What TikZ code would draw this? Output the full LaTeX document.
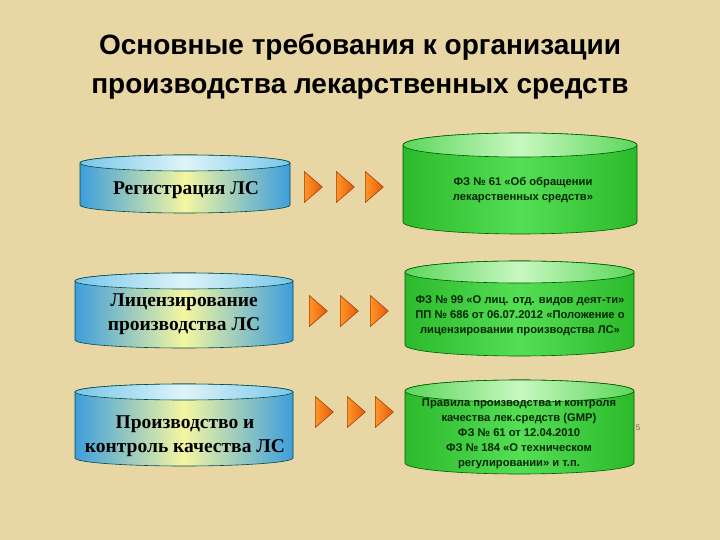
\documentclass[tikz,border=0pt]{standalone}
\usepackage{fontspec}
\setmainfont{Liberation Sans}
\newfontfamily\serifbf{Liberation Serif}
\usetikzlibrary{shapes.geometric}
\definecolor{paper}{RGB}{232,214,164}
\definecolor{drumblue}{RGB}{62,158,220}
\definecolor{drumyellow}{RGB}{244,246,160}
\definecolor{lidblue}{RGB}{120,198,234}
\definecolor{lidlight}{RGB}{222,244,248}
\definecolor{drumgreen}{RGB}{44,186,44}
\definecolor{drumlime}{RGB}{84,222,84}
\definecolor{lidgreen}{RGB}{92,214,92}
\definecolor{lidmint}{RGB}{200,248,192}
\definecolor{arrowlight}{RGB}{255,150,40}
\definecolor{arrowdark}{RGB}{232,90,10}
\tikzset{
    bluebody/.style={draw=teal!60!black, line width=0.6pt, left color=drumblue, right color=drumblue, middle color=drumyellow},
    bluelid/.style={draw=teal!60!black, line width=0.6pt, left color=lidblue, right color=lidblue, middle color=lidlight},
    greenbody/.style={draw=green!35!black, line width=0.6pt, left color=drumgreen, right color=drumgreen, middle color=drumlime},
    greenlid/.style={draw=green!35!black, line width=0.6pt, left color=lidgreen, right color=lidgreen, middle color=lidmint},
    lefttext/.style={align=center, font=\serifbf\bfseries\fontsize{19.5}{24}\selectfont, text=black},
    righttext/.style={align=center, font=\bfseries\fontsize{11.2}{15}\selectfont, text=black!85!green},
    pointer/.style={isosceles triangle, isosceles triangle stretches, minimum width=31pt, minimum height=18pt, inner sep=0pt, anchor=west, draw=arrowdark!70!black, line width=0.6pt, left color=arrowlight, right color=arrowdark}
}
\begin{document}
\begin{tikzpicture}[x=1pt, y=-1pt]
        \fill[paper] (0,0) rectangle (720,540);
        \useasboundingbox (0,0) rectangle (720,540);
        \node[font=\bfseries\fontsize{28}{28}\selectfont] (title1) at (360,47) {Основные требования к организации};
        \node[font=\bfseries\fontsize{28}{28}\selectfont] (title2) at (360,89) {производства лекарственных средств};
        \foreach \xa/\xb/\ya/\yb/\r in {80/290/163/205/8, 75/293/281/340/8, 75/293/392/458/8}{
            \path[bluebody] (\xa,\ya) -- (\xa,\yb) arc[start angle=180, end angle=0, x radius={(\xb-\xa)/2}, y radius=\r] -- (\xb,\ya) arc[start angle=0, end angle=-180, x radius={(\xb-\xa)/2}, y radius=\r] -- cycle;
            \path[bluelid] ({(\xa+\xb)/2},\ya) ellipse[x radius={(\xb-\xa)/2}, y radius=\r];
        }
        \foreach \xa/\xb/\ya/\yb/\r in {403/637/145/222/12, 405/634/272/345/11, 405/634/391/463/11}{
            \path[greenbody] (\xa,\ya) -- (\xa,\yb) arc[start angle=180, end angle=0, x radius={(\xb-\xa)/2}, y radius=\r] -- (\xb,\ya) arc[start angle=0, end angle=-180, x radius={(\xb-\xa)/2}, y radius=\r] -- cycle;
            \path[greenlid] ({(\xa+\xb)/2},\ya) ellipse[x radius={(\xb-\xa)/2}, y radius=\r];
        }
        \node[font=\fontsize{8}{8}\selectfont, text=black!60] (pagenum) at (638,428) {5};
        \node[lefttext] (reg) at (186,190) {Регистрация ЛС};
        \node[lefttext] (lic) at (184,314) {Лицензирование\\производства ЛС};
        \node[lefttext] (prod) at (185,436) {Производство и\\контроль качества ЛС};
        \node[righttext] (law61) at (523,190) {ФЗ № 61 «Об обращении\\лекарственных средств»};
        \node[righttext] (law99) at (520,316) {ФЗ № 99 «О лиц. отд. видов деят-ти»\\ПП № 686 от 06.07.2012 «Положение о\\лицензировании производства ЛС»};
        \node[righttext] (gmp) at (519,434) {Правила производства и контроля\\качества лек.средств (GMP)\\ФЗ № 61 от 12.04.2010\\ФЗ № 184 «О техническом\\регулировании» и т.п.};
        \foreach \y/\xs in {187/{304,336,365}, 311/{309,340,370}, 412/{315,347,375}}{
            \foreach \x in \xs{
                \node[pointer] (tri\y-\x) at (\x,\y) {};
            }
        }
    \end{tikzpicture}
\end{document}
